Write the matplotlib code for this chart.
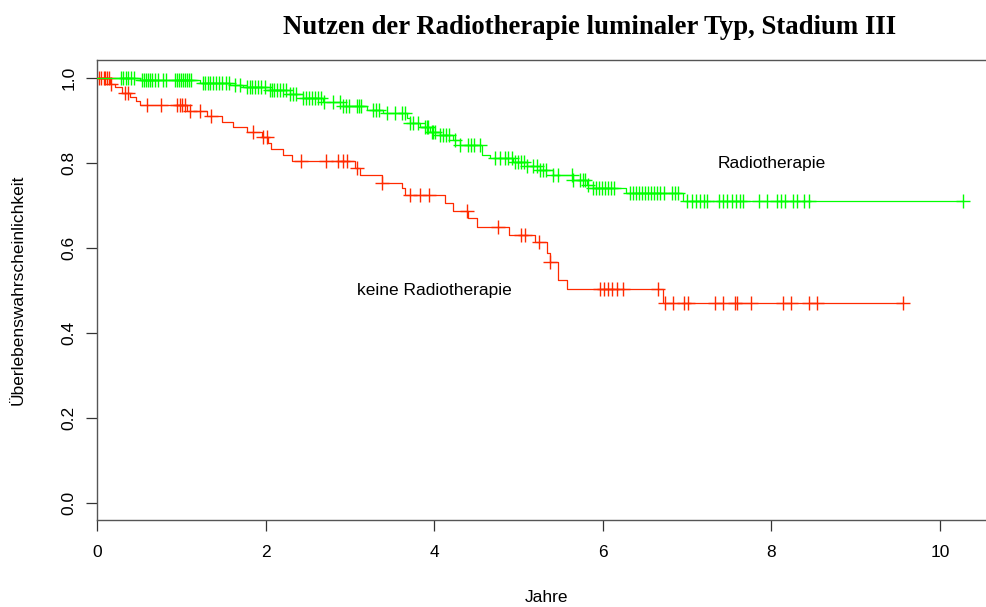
import numpy as np
import matplotlib
matplotlib.use("Agg")
import matplotlib.pyplot as plt

# ---- data (years, survival) ----
title = "Nutzen der Radiotherapie luminaler Typ, Stadium III"
xlabel = "Jahre"
ylabel = "Überlebenswahrscheinlichkeit"
label_rt = "Radiotherapie"
label_no = "keine Radiotherapie"

# no radiotherapy: event times and survival after each event
no_t = [0.15, 0.21, 0.30, 0.39, 0.46, 0.51, 1.07, 1.30, 1.48, 1.61, 1.78, 1.96,
        2.03, 2.06, 2.21, 2.31, 3.06, 3.12, 3.38, 3.62, 3.65, 4.13, 4.22, 4.40,
        4.51, 4.89, 5.20, 5.34, 5.37, 5.47, 5.58, 6.71]
no_s = [0.986, 0.979, 0.965, 0.955, 0.945, 0.936, 0.922, 0.910, 0.896, 0.885,
        0.873, 0.861, 0.847, 0.833, 0.819, 0.805, 0.788, 0.772, 0.753, 0.741,
        0.725, 0.706, 0.687, 0.670, 0.649, 0.631, 0.614, 0.588, 0.567, 0.525,
        0.504, 0.470]
no_cens = [0.02, 0.05, 0.08, 0.10, 0.12, 0.14, 0.17, 0.33, 0.37, 0.59, 0.76,
           0.95, 0.98, 1.01, 1.04, 1.10, 1.22, 1.35, 1.85, 1.97, 2.02, 2.42,
           2.72, 2.86, 2.92, 2.97, 3.08, 3.38, 3.71, 3.83, 3.94, 4.39, 4.76,
           5.03, 5.08, 5.24, 5.37, 5.97, 6.01, 6.06, 6.11, 6.17, 6.24, 6.65,
           6.74, 6.83, 6.96, 7.01, 7.33, 7.43, 7.57, 7.59, 7.76, 8.14, 8.23,
           8.45, 8.54, 9.56]

# radiotherapy
rt_t = [0.51, 1.22, 1.58, 1.73, 2.05, 2.29, 2.44, 2.68, 2.92, 3.20, 3.39, 3.68,
        3.71, 3.83, 3.95, 4.07, 4.22, 4.31, 4.57, 4.66, 4.93, 5.10, 5.26, 5.41,
        5.65, 5.81, 5.88, 6.28, 6.95]
rt_s = [0.995, 0.988, 0.984, 0.979, 0.972, 0.962, 0.953, 0.944, 0.934, 0.925,
        0.918, 0.906, 0.894, 0.885, 0.873, 0.866, 0.854, 0.842, 0.819, 0.812,
        0.802, 0.793, 0.784, 0.772, 0.760, 0.748, 0.741, 0.729, 0.711]
rt_cens = [0.28, 0.31, 0.34, 0.37, 0.40, 0.44, 0.53, 0.56, 0.58, 0.60, 0.63,
           0.65, 0.69, 0.72, 0.78, 0.82, 0.93, 0.95, 0.97, 1.00, 1.02, 1.04,
           1.07, 1.09, 1.11, 1.26, 1.28, 1.32, 1.34, 1.38, 1.41, 1.45, 1.48,
           1.53, 1.57, 1.64, 1.70, 1.78, 1.81, 1.84, 1.87, 1.91, 1.95, 1.99,
           2.05, 2.08, 2.10, 2.14, 2.17, 2.21, 2.24, 2.29, 2.33, 2.36, 2.44,
           2.48, 2.51, 2.55, 2.59, 2.62, 2.66, 2.69, 2.80, 2.88, 2.92, 2.95,
           2.99, 3.08, 3.11, 3.13, 3.27, 3.31, 3.35, 3.44, 3.54, 3.62, 3.65,
           3.71, 3.75, 3.81, 3.89, 3.91, 3.93, 3.97, 3.99, 4.01, 4.07, 4.10,
           4.14, 4.18, 4.25, 4.31, 4.40, 4.44, 4.47, 4.54, 4.72, 4.78, 4.84,
           4.88, 4.92, 4.96, 4.99, 5.03, 5.07, 5.10, 5.17, 5.22, 5.26, 5.29,
           5.33, 5.41, 5.47, 5.63, 5.65, 5.73, 5.77, 5.79, 5.82, 5.88, 5.92,
           5.95, 5.99, 6.03, 6.06, 6.10, 6.13, 6.32, 6.36, 6.39, 6.43, 6.47,
           6.50, 6.54, 6.57, 6.61, 6.64, 6.68, 6.73, 6.82, 6.86, 6.89, 7.00,
           7.06, 7.11, 7.15, 7.20, 7.24, 7.38, 7.43, 7.47, 7.53, 7.58, 7.63,
           7.66, 7.85, 7.95, 8.07, 8.11, 8.16, 8.26, 8.30, 8.39, 8.45, 10.27]

xticks = [0, 2, 4, 6, 8, 10]
yticks = [0.0, 0.2, 0.4, 0.6, 0.8, 1.0]

RED = "#ff2a00"
GREEN = "#00ff00"
FONT = "Liberation Sans"

fig = plt.figure(figsize=(9.87, 6.07), dpi=100)
W, H = 987, 607
ax = fig.add_axes([97 / W, (H - 520) / H, 1 - 97 / W, (520 - 60) / H])


def km(ax, times, surv, cens, color):
    t = np.concatenate([[0.0], times, [max(cens[-1], times[-1])]])
    s = np.concatenate([[1.0], surv, [surv[-1]]])
    ax.step(t, s, where="post", color=color, lw=0.9, zorder=3)
    c = np.asarray(cens)
    idx = np.searchsorted(np.asarray(times), c, side="right")
    s_all = np.concatenate([[1.0], surv])
    ax.plot(c, s_all[idx], ls="none", marker="+", ms=10, mew=1.0,
            color=color, zorder=3)


km(ax, no_t, no_s, no_cens, RED)
km(ax, rt_t, rt_s, rt_cens, GREEN)

ax.set_xlim(0, (987 - 97) / 84.3)
ax.set_ylim(-0.04, 1.0424)
ax.set_xticks(xticks)
ax.set_xticklabels([str(v) for v in xticks], fontfamily=FONT, fontsize=12.5)
ax.set_yticks(yticks)
ax.set_yticklabels([f"{v:.1f}" for v in yticks], fontfamily=FONT,
                   fontsize=12.5, rotation=90, va="center")
ax.tick_params(axis="both", direction="out", length=8, width=0.9,
               color="#333333")
ax.tick_params(axis="x", pad=10)
ax.tick_params(axis="y", pad=7)
for side in ["left", "bottom", "top"]:
    ax.spines[side].set_color("#555555")
    ax.spines[side].set_linewidth(1.0)
ax.spines["right"].set_visible(False)

ax.text(8.0, 0.80, label_rt, fontfamily=FONT, fontsize=12.5,
        ha="center", va="center")
ax.text(4.0, 0.50, label_no, fontfamily=FONT, fontsize=12.5,
        ha="center", va="center")

fig.text(547 / W, 1 - 598 / H, xlabel, fontfamily=FONT, fontsize=12.5,
         ha="center", va="center")
fig.text(18 / W, 1 - 290 / H, ylabel, fontfamily=FONT, fontsize=12.5,
         ha="center", va="center", rotation=90)
fig.text(590 / W, 1 - 28 / H, title, fontfamily="Liberation Serif",
         fontweight="bold", fontsize=19.3, ha="center", va="center")

fig.savefig("out.png", dpi=100)
